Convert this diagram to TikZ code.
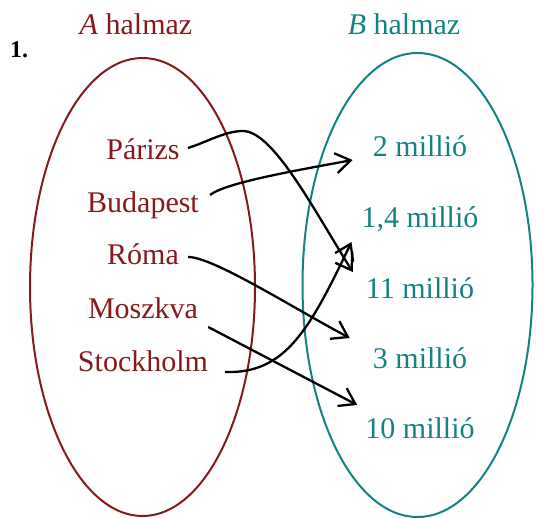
\documentclass[tikz,border=0pt]{standalone}
\usepackage{fontspec}
\setmainfont{Liberation Serif}
\usepackage{xcolor}
\usepackage{tikz}
\usetikzlibrary{arrows.meta}
\definecolor{setred}{RGB}{134,26,26}
\definecolor{setteal}{RGB}{20,130,130}

\begin{document}
\begin{tikzpicture}[x=1pt, y=1pt,
		cityA/.style={text=setred, font=\fontsize{30}{36}\selectfont, anchor=base, inner sep=0pt},
		valB/.style={text=setteal, font=\fontsize{30}{36}\selectfont, anchor=base, inner sep=0pt},
		conn/.style={draw=black, line width=2.3pt, -{Straight Barb[length=15pt, width=20pt]}}]
		\useasboundingbox (0,0) rectangle (537,-518);
		% the two sets
		\draw[setred, line width=2pt] (142.5,-287) ellipse [x radius=112.5, y radius=229];
		\draw[setteal, line width=2pt] (417.5,-285) ellipse [x radius=115, y radius=232];
		\node[font=\fontsize{24}{28}\selectfont\bfseries, anchor=base west, inner sep=0pt] (num) at (10,-58) {1.};
		\node[cityA] (titA) at (136,-35) {\textit{A} halmaz};
		\node[valB] (titB) at (404,-35) {\textit{B} halmaz};
		\foreach \n/\t/\y in {par/Párizs/160, bud/Budapest/213, rom/Róma/265, mos/Moszkva/318, sto/Stockholm/371}
			\node[cityA] (\n) at (143,-\y) {\t};
		\foreach \n/\t/\y in {m2/{2 millió}/157, m14/{1,4 millió}/228, m11/{11 millió}/298, m3/{3 millió}/368, m10/{10 millió}/438}
			\node[valB] (\n) at (420,-\y) {\t};
		% pairing
		\draw[conn] ([shift={(8,12)}]par.base east) .. controls +(17,5) and +(-18,0) .. ++(55,17)
			.. controls +(30,0) and +(-40,64) .. ([shift={(-13,26)}]m11.base west);
		\draw[conn] ([shift={(11,18)}]bud.base east) .. controls +(15,12) and +(-60,-11) .. ([shift={(-20,-3)}]m2.base west);
		\draw[conn] ([shift={(9,8)}]rom.base east) .. controls +(25,0) and +(-60,32) .. ([shift={(-23,30)}]m3.base west);
		\draw[conn] ([shift={(10,-9)}]mos.base east) -- ([shift={(-8,33)}]m10.base west);
		\draw[conn] ([shift={(17,-1)}]sto.base east) .. controls +(60,-2) and +(-42,-88) .. ([shift={(-10,-14)}]m14.base west);
	\end{tikzpicture}
\end{document}
